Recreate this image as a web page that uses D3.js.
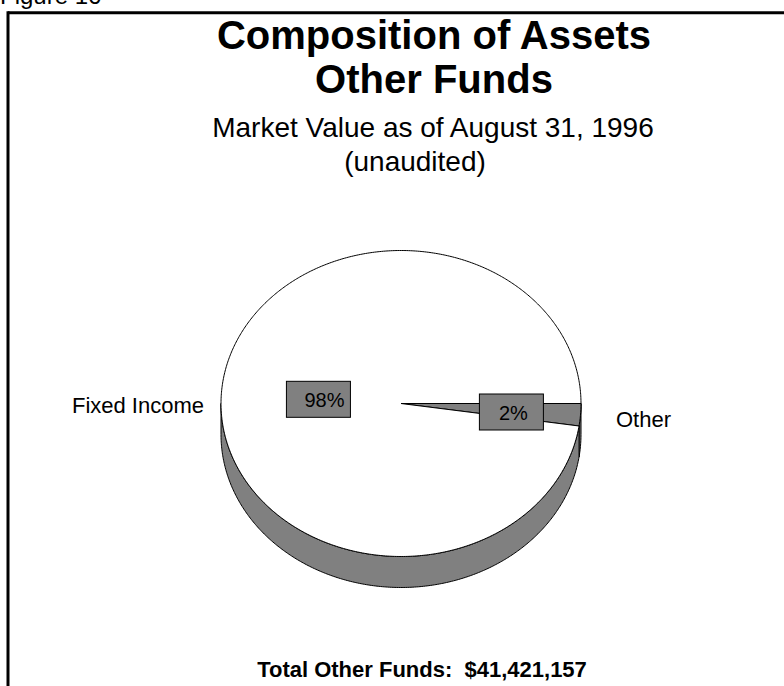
<!DOCTYPE html>
<html lang="en">

<head>
	<meta charset="utf-8" />
	<title>Composition of Assets - Other Funds</title>
	<script src="https://d3js.org/d3.v7.min.js"></script>
	<style>
		body {
			margin: 0;
			background: #fff;
		}

		svg text {
			font-family: "Liberation Sans", Arial, Helvetica, sans-serif;
			fill: #000;
		}
	</style>
</head>

<body>
	<div id="my_dataviz"></div>

	<script>
		// chart values
		var categories = ["Other", "Fixed Income"];
		var shares = [2.35, 97.65];
		var topColors = ["#808080", "#ffffff"];
		var titleLines = ["Composition of Assets", "Other Funds"];
		var subtitleLines = ["Market Value as of August 31, 1996", "(unaudited)"];
		var figureLabel = "Figure 16";
		var totalLabel = "Total Other Funds:  $41,421,157";

		var width = 784,
			height = 686;

		// pie geometry (ellipse seen at an angle)
		var cx = 401,
			cy = 403.5,
			rx = 180,
			ry = 153,
			depth = 31;

		var svg = d3.select("#my_dataviz")
			.append("svg")
			.attr("width", width)
			.attr("height", height);

		// frame
		svg.append("line")
			.attr("x1", 8).attr("x2", width)
			.attr("y1", 12.7).attr("y2", 12.7)
			.style("stroke", "#000")
			.style("stroke-width", 3);
		svg.append("line")
			.attr("x1", 8).attr("x2", 8)
			.attr("y1", 11.2).attr("y2", height)
			.style("stroke", "#000")
			.style("stroke-width", 3);

		svg.append("text")
			.attr("x", 0)
			.attr("y", 4)
			.style("font-size", "24px")
			.text(figureLabel);

		// titles
		svg.selectAll(".title")
			.data(titleLines)
			.enter()
			.append("text")
			.attr("class", "title")
			.attr("x", 434)
			.attr("y", function(d, i) { return 49 + i * 44; })
			.attr("text-anchor", "middle")
			.style("font-size", "40px")
			.style("font-weight", "bold")
			.text(function(d) { return d; });

		svg.selectAll(".subtitle")
			.data(subtitleLines)
			.enter()
			.append("text")
			.attr("class", "subtitle")
			.attr("x", function(d, i) { return i == 0 ? 433 : 415; })
			.attr("y", function(d, i) { return 137 + i * 34; })
			.attr("text-anchor", "middle")
			.style("font-size", "28px")
			.text(function(d) { return d; });

		// pie
		var color = d3.scaleOrdinal()
			.domain(categories)
			.range(topColors);

		var data = categories.map(function(c, i) {
			return { name: c, value: shares[i] };
		});

		// start at 3 o'clock, go clockwise
		var pie = d3.pie()
			.sort(null)
			.value(function(d) { return d.value; })
			.startAngle(Math.PI / 2)
			.endAngle(Math.PI / 2 + 2 * Math.PI);

		var arcs = pie(data);

		var px = function(a, f) { return cx + rx * (f || 1) * Math.sin(a); };
		var py = function(a, f) { return cy - ry * (f || 1) * Math.cos(a); };

		function topPath(d) {
			var p = d3.path();
			p.moveTo(cx, cy);
			var n = Math.max(2, Math.ceil((d.endAngle - d.startAngle) / 0.01));
			for (var k = 0; k <= n; k++) {
				var a = d.startAngle + (d.endAngle - d.startAngle) * k / n;
				p.lineTo(px(a), py(a));
			}
			p.closePath();
			return p.toString();
		}

		// visible side: front half, angles pi/2 .. 3pi/2
		function sidePath(d) {
			var a0 = Math.max(d.startAngle, Math.PI / 2),
				a1 = Math.min(d.endAngle, 3 * Math.PI / 2);
			if (a1 <= a0) return null;
			var n = Math.max(2, Math.ceil((a1 - a0) / 0.01));
			var p = d3.path();
			p.moveTo(px(a0), py(a0));
			for (var k = 1; k <= n; k++) {
				var a = a0 + (a1 - a0) * k / n;
				p.lineTo(px(a), py(a));
			}
			for (var k = n; k >= 0; k--) {
				var a = a0 + (a1 - a0) * k / n;
				p.lineTo(px(a), py(a) + depth);
			}
			p.closePath();
			return p.toString();
		}

		var chart = svg.append("g");

		chart.selectAll(".side")
			.data(arcs.filter(function(d) { return sidePath(d) != null; }))
			.enter()
			.append("path")
			.attr("class", "side")
			.attr("d", sidePath)
			.style("fill", "#808080")
			.style("stroke", "#000")
			.style("stroke-width", 1)
			.style("stroke-linejoin", "round");

		chart.selectAll(".slice")
			.data(arcs)
			.enter()
			.append("path")
			.attr("class", "slice")
			.attr("d", topPath)
			.style("fill", function(d) { return color(d.data.name); })
			.style("stroke", "#000")
			.style("stroke-width", 1)
			.style("stroke-linejoin", "round");

		// percent labels in boxes
		var labelRadius = { "Other": 0.615, "Fixed Income": 0.46 };
		var boxW = 64,
			boxH = 36;

		var labels = chart.selectAll(".pct")
			.data(arcs)
			.enter()
			.append("g")
			.attr("class", "pct")
			.attr("transform", function(d) {
				var a = (d.startAngle + d.endAngle) / 2;
				var f = labelRadius[d.data.name];
				var x = px(a, f),
					y = d.data.name == "Other" ? cy + 8.5 : py(a, f) + 1;
				return "translate(" + x + "," + y + ")";
			});

		labels.append("rect")
			.attr("x", -boxW / 2)
			.attr("y", -boxH / 2)
			.attr("width", boxW)
			.attr("height", boxH)
			.style("fill", "#808080")
			.style("stroke", "#000")
			.style("stroke-width", 1);

		labels.append("text")
			.attr("x", function(d) { return d.data.name == "Other" ? 2 : 26; })
			.attr("y", 8)
			.attr("text-anchor", function(d) { return d.data.name == "Other" ? "middle" : "end"; })
			.style("font-size", "20px")
			.text(function(d) { return Math.round(d.data.value) + "%"; });

		// category names
		chart.append("text")
			.attr("x", cx - rx - 17)
			.attr("y", cy + 9.5)
			.attr("text-anchor", "end")
			.style("font-size", "22px")
			.text(categories[1]);

		chart.append("text")
			.attr("x", cx + rx + 35)
			.attr("y", cy + 23.5)
			.style("font-size", "22px")
			.text(categories[0]);

		// total
		svg.append("text")
			.attr("x", 422)
			.attr("y", 677)
			.attr("text-anchor", "middle")
			.style("font-size", "22px")
			.style("font-weight", "bold")
			.style("white-space", "pre")
			.text(totalLabel);
	</script>
</body>

</html>
